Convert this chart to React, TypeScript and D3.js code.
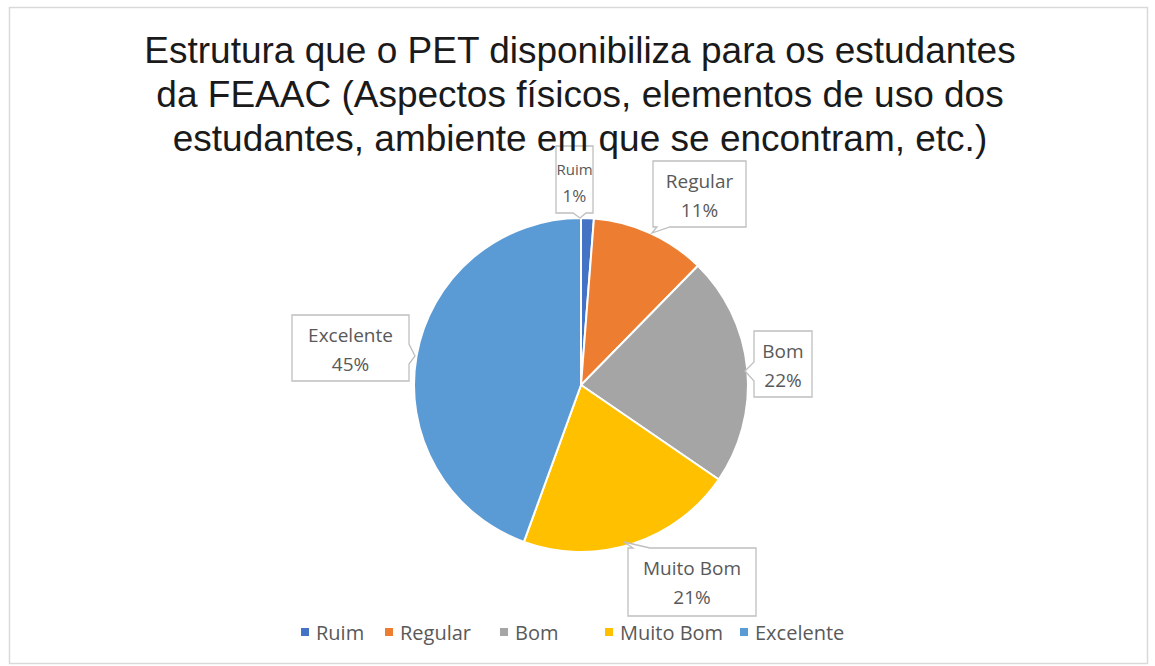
import React from "react";
import * as d3 from "d3";

const categories = ["Ruim", "Regular", "Bom", "Muito Bom", "Excelente"];
const counts = [1, 9, 18, 17, 36];
const percentLabels = ["1%", "11%", "22%", "21%", "45%"];
const colors = ["#4472C4", "#ED7D31", "#A5A5A5", "#FFC000", "#5B9BD5"];
const titleLines = [
  "Estrutura que o PET disponibiliza para os estudantes",
  "da FEAAC (Aspectos físicos, elementos de uso dos",
  "estudantes, ambiente em que se encontram, etc.)",
];

const W = 1155;
const H = 666;
const cx = 581;
const cy = 385;
const R = 167;

// callout layout (same order as categories): box rect and pointer
type Callout = { x: number; y: number; w: number; h: number; side: "bottom" | "left" | "right" | "top"; p1: number; p2: number; tip: [number, number] };
const callouts: Callout[] = [
  { x: 556, y: 146, w: 37, h: 67, side: "bottom", p1: 573, p2: 586, tip: [580, 218] },
  { x: 653, y: 161, w: 93, h: 66, side: "bottom", p1: 657, p2: 670, tip: [652, 233] },
  { x: 754, y: 331, w: 58, h: 66, side: "left", p1: 362, p2: 381, tip: [745, 371] },
  { x: 628, y: 548, w: 128, h: 68, side: "top", p1: 633, p2: 650, tip: [624, 542] },
  { x: 292, y: 315, w: 117, h: 66, side: "right", p1: 344, p2: 364, tip: [415, 356] },
];

function calloutPath(c: Callout): string {
  const { x, y, w, h, side, p1, p2, tip } = c;
  const r = x + w, b = y + h;
  const t = `${tip[0]},${tip[1]}`;
  if (side === "bottom")
    return `M${x},${y}H${r}V${b}H${p2}L${t}L${p1},${b}H${x}Z`;
  if (side === "top")
    return `M${x},${y}H${p1}L${t}L${p2},${y}H${r}V${b}H${x}Z`;
  if (side === "left")
    return `M${x},${y}H${r}V${b}H${x}V${p2}L${t}L${x},${p1}Z`;
  return `M${x},${y}H${r}V${p1}L${t}L${r},${p2}V${b}H${x}Z`;
}

const legendX = [305, 389, 504, 609, 744];

export default function App() {
  const pie = d3.pie<number>().sort(null).value((d) => d)(counts);
  const arc = d3.arc<d3.PieArcDatum<number>>().innerRadius(0).outerRadius(R);
  const font = "'Open Sans', 'Noto Sans', sans-serif";
  return (
    <svg width={W} height={H} style={{ position: "absolute", left: 0, top: 0, background: "#fff" }}>
      <rect x={9.5} y={7.5} width={1138} height={656} fill="#fff" stroke="#d9d9d9" strokeWidth={1.5} />
      <g transform={`translate(${cx},${cy})`}>
        {pie.map((p, i) => (
          <path key={i} d={arc(p) || ""} fill={colors[i]} stroke="#fff" strokeWidth={2} />
        ))}
      </g>
      {callouts.map((c, i) => (
        <g key={i}>
          <path d={calloutPath(c)} fill="#fff" stroke="#bfbfbf" strokeWidth={1.3} />
          <text x={c.x + c.w / 2} y={c.y + (i === 0 ? 29 : 27)} textAnchor="middle" fontFamily={font} fontSize={i === 0 ? 15 : 19} fill="#595959">
            {categories[i]}
          </text>
          <text x={c.x + c.w / 2} y={c.y + 56} textAnchor="middle" fontFamily={font} fontSize={i === 0 ? 17 : 19} fill="#595959">
            {percentLabels[i]}
          </text>
        </g>
      ))}
      {titleLines.map((t, i) => (
        <text key={i} x={580} y={63 + i * 44} textAnchor="middle" fontFamily="'Liberation Sans', Arial, sans-serif" fontSize={37} fill="#1a1a1a">
          {t}
        </text>
      ))}
      {categories.map((c, i) => (
        <g key={c}>
          <rect x={legendX[i] - 4} y={628} width={8} height={8} fill={colors[i]} />
          <text x={legendX[i] + 11} y={640} fontFamily={font} fontSize={20} fill="#595959">
            {c}
          </text>
        </g>
      ))}
    </svg>
  );
}
